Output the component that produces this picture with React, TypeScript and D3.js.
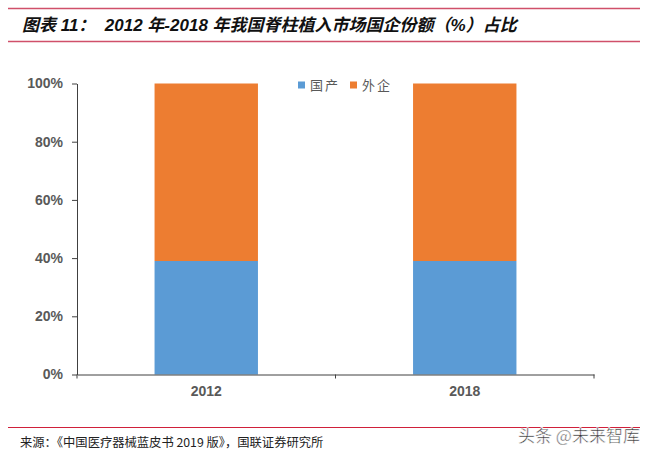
import React, { useEffect, useRef } from "react";
import * as d3 from "d3";

const categories = ["2012", "2018"];
const seriesNames = ["国产", "外企"];
const domestic = [39, 39];
const foreign = [61, 61];
const yTicks = [0, 20, 40, 60, 80, 100];
const colors = ["#5b9bd5", "#ed7d31"];
const titleText = "图表 11：  2012 年-2018 年我国脊柱植入市场国企份额（%）占比";
const sourceText = "来源：《中国医疗器械蓝皮书 2019 版》，国联证券研究所";
const watermark = "头条 @未来智库";

export default function App() {
  const ref = useRef<SVGSVGElement>(null);
  useEffect(() => {
    const svg = d3.select(ref.current);
    svg.selectAll("*").remove();
    const W = 653, H = 456;
    const left = 77, right = 594, top = 83.5, bottom = 374.5;
    const cjk = "'Noto Sans CJK SC', sans-serif";
    const latin = "Arial, 'Liberation Sans', sans-serif";

    svg.append("rect").attr("width", W).attr("height", H).attr("fill", "#fff");

    // title lines
    svg.append("line").attr("x1", 8).attr("x2", 640).attr("y1", 8.5).attr("y2", 8.5)
      .attr("stroke", "#d0506a").attr("stroke-width", 1.5);
    svg.append("line").attr("x1", 8).attr("x2", 640).attr("y1", 41.5).attr("y2", 41.5)
      .attr("stroke", "#d0506a").attr("stroke-width", 1.5);
    svg.append("text").attr("x", 22).attr("y", 31)
      .attr("font-family", `${latin}, 'Noto Sans CJK SC'`).attr("font-size", 17)
      .attr("font-weight", "bold").attr("font-style", "italic").attr("fill", "#111")
      .attr("xml:space", "preserve").style("white-space", "pre")
      .text(titleText);

    const y = d3.scaleLinear().domain([0, 100]).range([bottom, top]);
    const x = d3.scaleBand().domain(categories).range([left, right]).paddingInner(0.6).paddingOuter(0.3);

    const data = categories.map((c, i) => ({ cat: c, [seriesNames[0]]: domestic[i], [seriesNames[1]]: foreign[i] }));
    const stacked = d3.stack<any>().keys(seriesNames)(data);

    stacked.forEach((s, si) => {
      svg.append("g").selectAll("rect").data(s).join("rect")
        .attr("x", (d: any) => x(d.data.cat)!)
        .attr("width", x.bandwidth())
        .attr("y", (d: any) => y(d[1]))
        .attr("height", (d: any) => y(d[0]) - y(d[1]))
        .attr("fill", colors[si]);
    });

    // y axis
    const yAxis = svg.append("g").attr("transform", `translate(${left},0)`)
      .call(d3.axisLeft(y).tickValues(yTicks).tickFormat((d: any) => `${d}%`).tickSize(5).tickSizeOuter(0));
    yAxis.select(".domain").attr("stroke", "#404040");
    yAxis.selectAll(".tick line").attr("stroke", "#404040");
    yAxis.selectAll(".tick text").attr("font-family", latin).attr("font-size", 14)
      .attr("font-weight", "bold").attr("fill", "#595959").attr("x", -14);

    // x axis
    const xAxis = svg.append("g").attr("transform", `translate(0,${bottom})`)
      .call(d3.axisBottom(x).tickSize(0).tickSizeOuter(0));
    xAxis.select(".domain").attr("stroke", "#404040");
    xAxis.selectAll(".tick text").attr("font-family", latin).attr("font-size", 14)
      .attr("font-weight", "bold").attr("fill", "#595959").attr("dy", "1.3em");
    // category boundary ticks
    const bounds = [left, (left + right) / 2, right];
    svg.append("g").selectAll("line").data(bounds).join("line")
      .attr("x1", (d) => d).attr("x2", (d) => d).attr("y1", bottom).attr("y2", bottom + 4)
      .attr("stroke", "#404040");

    // legend
    const lg = svg.append("g").attr("transform", "translate(298,85)");
    const lx = [0, 52];
    seriesNames.forEach((n, i) => {
      lg.append("rect").attr("x", lx[i]).attr("y", -3.5).attr("width", 7).attr("height", 7).attr("fill", colors[i]);
      lg.append("text").attr("x", lx[i] + 12).attr("y", 5).attr("font-family", cjk)
        .attr("font-size", 13).attr("fill", "#595959").attr("letter-spacing", 2).text(n);
    });

    // footer
    svg.append("line").attr("x1", 8).attr("x2", 640).attr("y1", 427.5).attr("y2", 427.5)
      .attr("stroke", "#d0203a").attr("stroke-width", 1);
    svg.append("text").attr("x", 20).attr("y", 447).attr("font-family", cjk)
      .attr("font-size", 12.3).attr("fill", "#222").text(sourceText);
    svg.append("rect").attr("x", 516).attr("y", 428.5).attr("width", 130).attr("height", 20).attr("fill", "#fff");
    svg.append("text").attr("x", 518).attr("y", 442).attr("font-family", cjk)
      .attr("font-size", 17).attr("fill", "#333").attr("stroke", "#fff").attr("stroke-width", 0.5)
      .text(watermark);
  }, []);
  return (
    <svg ref={ref} width={653} height={456} style={{ position: "absolute", left: 0, top: 0 }} />
  );
}
